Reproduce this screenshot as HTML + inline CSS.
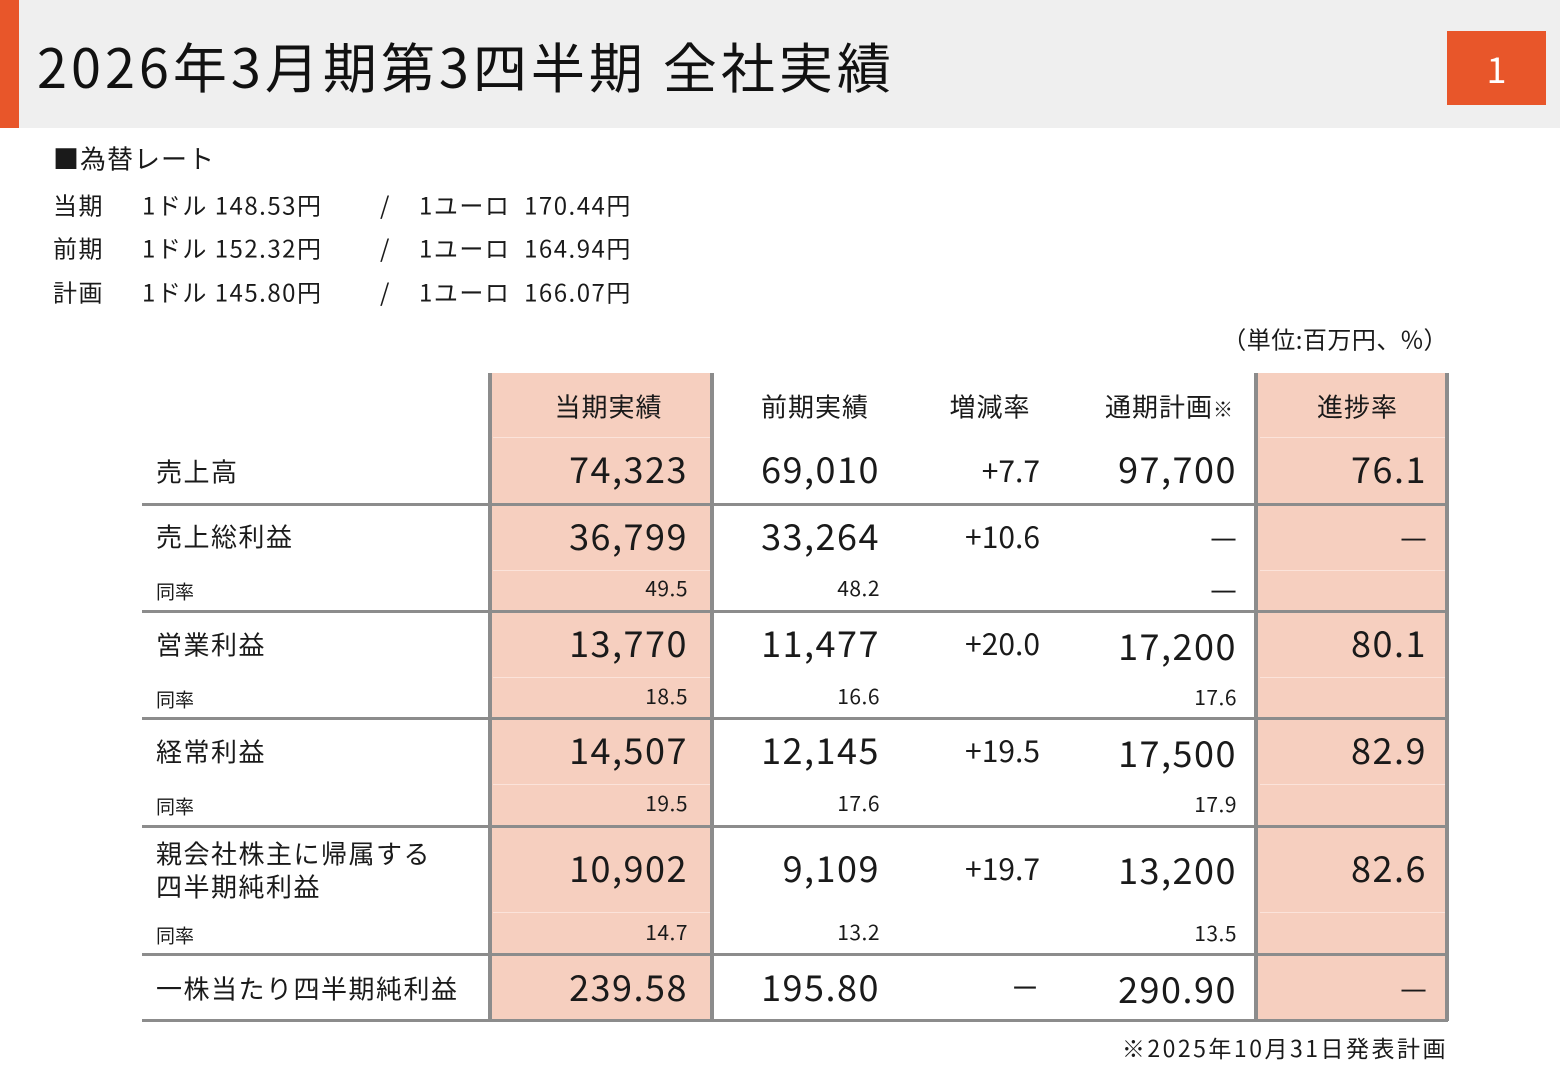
<!DOCTYPE html>
<html><head><meta charset="utf-8"><style>
*{margin:0;padding:0;box-sizing:border-box}
body{width:1560px;height:1080px;background:#fff;position:relative;overflow:hidden;font-family:"Noto Sans CJK JP","Liberation Sans",sans-serif;color:#1a1a1a}
.a{position:absolute}
.t{position:absolute;line-height:1;white-space:nowrap;transform:translateY(-56%)}
.big{font-size:36px;letter-spacing:1.5px}
.lb{font-size:26px;letter-spacing:1.5px}
.sm{font-size:21px;letter-spacing:0.5px}
.sl{font-size:19px}
.h{font-size:26px;letter-spacing:1px}
.r{font-size:24px;letter-spacing:1.5px}
.hl{position:absolute;left:142px;width:1306px;height:3px;background:#8c8c8c}
.vl{position:absolute;top:373px;height:648px;width:4px;background:#8c8c8c}
.fl{position:absolute;height:1px;background:#fbe3da}
</style></head><body>
<div class="a" style="left:0;top:0;width:1560px;height:128px;background:#efefef"></div>
<div class="a" style="left:0;top:0;width:19px;height:128px;background:#e8562a"></div>
<div class="t" style="left:37px;top:68px;font-size:54px;letter-spacing:4px;color:#111">2026年3月期第3四半期 全社実績</div>
<div class="a" style="left:1447px;top:31px;width:99px;height:74px;background:#e8562a"></div>
<div class="t" style="left:1447px;width:99px;text-align:center;top:70px;font-size:36px;color:#fff">1</div>

<div class="t" style="left:53px;top:160px;font-size:26px;letter-spacing:1px">■為替レート</div>
<div class="t r" style="left:53px;top:206px">当期</div>
<div class="t r" style="left:53px;top:249px">前期</div>
<div class="t r" style="left:53px;top:293px">計画</div>
<div class="t r" style="left:142px;top:206px">1ドル 148.53円</div>
<div class="t r" style="left:142px;top:249px">1ドル 152.32円</div>
<div class="t r" style="left:142px;top:293px">1ドル 145.80円</div>
<div class="t r" style="left:380px;top:206px">/</div>
<div class="t r" style="left:380px;top:249px">/</div>
<div class="t r" style="left:380px;top:293px">/</div>
<div class="t r" style="left:419px;top:206px">1ユーロ&nbsp; 170.44円</div>
<div class="t r" style="left:419px;top:249px">1ユーロ&nbsp; 164.94円</div>
<div class="t r" style="left:419px;top:293px">1ユーロ&nbsp; 166.07円</div>
<div class="t" style="right:112px;top:340px;font-size:24px;letter-spacing:0.5px">（単位:百万円、%）</div>

<div class="a" style="left:489px;top:373px;width:223px;height:648px;background:#f6cfbf"></div>
<div class="a" style="left:1256px;top:373px;width:191px;height:648px;background:#f6cfbf"></div>
<div class="fl" style="left:493px;width:217px;top:437px"></div><div class="fl" style="left:1260px;width:185px;top:437px"></div>
<div class="fl" style="left:493px;width:217px;top:570px"></div><div class="fl" style="left:1260px;width:185px;top:570px"></div>
<div class="fl" style="left:493px;width:217px;top:677px"></div><div class="fl" style="left:1260px;width:185px;top:677px"></div>
<div class="fl" style="left:493px;width:217px;top:784px"></div><div class="fl" style="left:1260px;width:185px;top:784px"></div>
<div class="fl" style="left:493px;width:217px;top:912px"></div><div class="fl" style="left:1260px;width:185px;top:912px"></div>

<div class="hl" style="top:503px"></div>
<div class="hl" style="top:610px"></div>
<div class="hl" style="top:717px"></div>
<div class="hl" style="top:825px"></div>
<div class="hl" style="top:953px"></div>
<div class="hl" style="top:1019px"></div>
<div class="vl" style="left:488px"></div>
<div class="vl" style="left:710px"></div>
<div class="vl" style="left:1254px"></div>
<div class="vl" style="left:1445px"></div>

<div class="t h" style="left:497px;width:223px;text-align:center;top:408px">当期実績</div>
<div class="t h" style="left:740px;width:150px;text-align:center;top:408px">前期実績</div>
<div class="t h" style="left:930px;width:120px;text-align:center;top:408px">増減率</div>
<div class="t h" style="right:326px;top:408px">通期計画<span style="font-size:20px">※</span></div>
<div class="t h" style="left:1262px;width:191px;text-align:center;top:408px">進捗率</div>

<div class="t lb" style="left:156px;top:473px">売上高</div>
<div class="t lb" style="left:156px;top:538px">売上総利益</div>
<div class="t sl" style="left:156px;top:592px">同率</div>
<div class="t lb" style="left:156px;top:646px">営業利益</div>
<div class="t sl" style="left:156px;top:700px">同率</div>
<div class="t lb" style="left:156px;top:753px">経常利益</div>
<div class="t sl" style="left:156px;top:807px">同率</div>
<div class="t lb" style="left:156px;top:855px">親会社株主に帰属する</div>
<div class="t lb" style="left:156px;top:888px">四半期純利益</div>
<div class="t sl" style="left:156px;top:936px">同率</div>
<div class="t lb" style="left:156px;top:990px">一株当たり四半期純利益</div>

<div class="t big" style="right:872px;top:470px">74,323</div>
<div class="t big" style="right:872px;top:537px">36,799</div>
<div class="t sm" style="right:872px;top:590px">49.5</div>
<div class="t big" style="right:872px;top:644px">13,770</div>
<div class="t sm" style="right:872px;top:698px">18.5</div>
<div class="t big" style="right:872px;top:751px">14,507</div>
<div class="t sm" style="right:872px;top:805px">19.5</div>
<div class="t big" style="right:872px;top:869px">10,902</div>
<div class="t sm" style="right:872px;top:934px">14.7</div>
<div class="t big" style="right:872px;top:988px">239.58</div>

<div class="t big" style="right:680px;top:470px">69,010</div>
<div class="t big" style="right:680px;top:537px">33,264</div>
<div class="t sm" style="right:680px;top:590px">48.2</div>
<div class="t big" style="right:680px;top:644px">11,477</div>
<div class="t sm" style="right:680px;top:698px">16.6</div>
<div class="t big" style="right:680px;top:751px">12,145</div>
<div class="t sm" style="right:680px;top:805px">17.6</div>
<div class="t big" style="right:680px;top:869px">9,109</div>
<div class="t sm" style="right:680px;top:934px">13.2</div>
<div class="t big" style="right:680px;top:988px">195.80</div>

<div class="t" style="right:520px;top:471px;font-size:30px">+7.7</div>
<div class="t" style="right:520px;top:537px;font-size:30px">+10.6</div>
<div class="t" style="right:520px;top:644px;font-size:30px">+20.0</div>
<div class="t" style="right:520px;top:751px;font-size:30px">+19.5</div>
<div class="t" style="right:520px;top:869px;font-size:30px">+19.7</div>
<div class="t" style="right:520px;top:988px;font-size:30px">－</div>

<div class="t big" style="right:323px;top:470px">97,700</div>
<div class="t" style="right:323px;top:537px;font-size:30px">—</div>
<div class="t" style="right:323px;top:589px;font-size:30px">—</div>
<div class="t big" style="right:323px;top:647px">17,200</div>
<div class="t sm" style="right:323px;top:699px">17.6</div>
<div class="t big" style="right:323px;top:754px">17,500</div>
<div class="t sm" style="right:323px;top:806px">17.9</div>
<div class="t big" style="right:323px;top:871px">13,200</div>
<div class="t sm" style="right:323px;top:935px">13.5</div>
<div class="t big" style="right:323px;top:990px">290.90</div>

<div class="t big" style="right:133px;top:470px">76.1</div>
<div class="t" style="right:133px;top:537px;font-size:30px">—</div>
<div class="t big" style="right:133px;top:644px">80.1</div>
<div class="t big" style="right:133px;top:751px">82.9</div>
<div class="t big" style="right:133px;top:869px">82.6</div>
<div class="t" style="right:133px;top:988px;font-size:30px">—</div>

<div class="t" style="right:112px;top:1049px;font-size:23px;letter-spacing:2.5px">※2025年10月31日発表計画</div>
</body></html>
